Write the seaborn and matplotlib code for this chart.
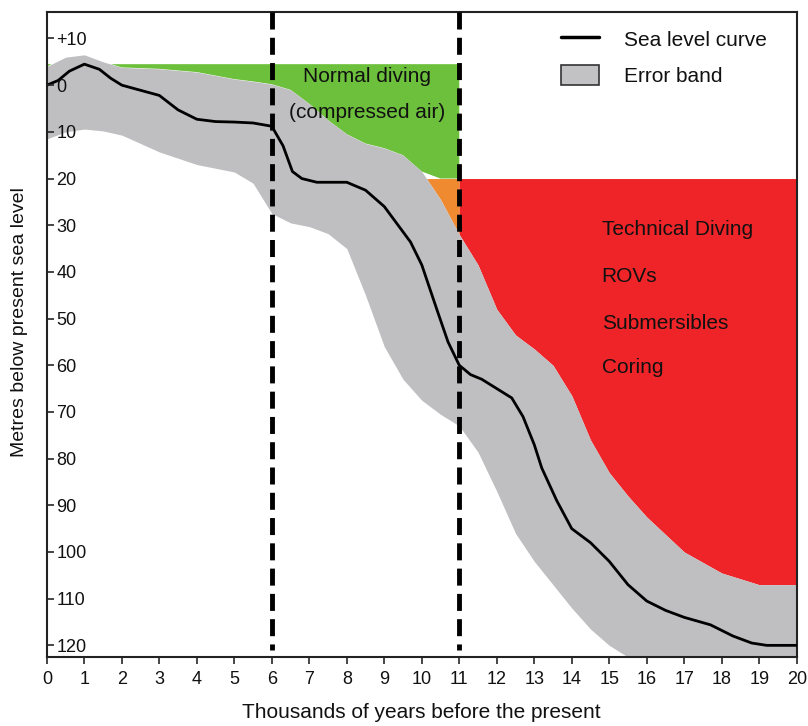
import numpy as np
import matplotlib
matplotlib.use("Agg")
import matplotlib.pyplot as plt
import seaborn as sns
from matplotlib.lines import Line2D
from matplotlib.patches import Patch

# sea level curve (thousands of years BP, metres below present)
curve_years = [0, 0.3, 0.6, 1.0, 1.4, 1.7, 2.0, 2.5, 3.0, 3.5, 4.0, 4.5, 5.0, 5.5,
               6.0, 6.3, 6.55, 6.8, 7.2, 8.0, 8.5, 9.0, 9.7, 10.0, 10.4, 10.7, 11.0,
               11.3, 11.6, 12.0, 12.4, 12.7, 13.0, 13.2, 13.6, 14.0, 14.5, 15.0, 15.5,
               16.0, 16.5, 17.0, 17.7, 18.3, 18.8, 19.2, 20.0]
curve_depth = [0, -1, -3, -4.5, -3.4, -1.5, 0, 1.1, 2.2, 5.3, 7.3, 7.8, 7.9, 8.1,
               8.8, 13, 18.5, 20, 20.8, 20.8, 22.5, 26, 33.6, 38.5, 48, 55, 60,
               62, 63, 65, 67, 71, 77, 82, 89, 95, 98, 102, 107,
               110.5, 112.5, 114, 115.6, 118, 119.5, 120, 120]

# error band edges
band_years = [0, 0.5, 1, 1.5, 2, 3, 4, 5, 5.5, 6, 6.5, 7, 7.5, 8, 8.5, 9, 9.5, 10,
              10.5, 11, 11.5, 12, 12.5, 13, 13.5, 14, 14.5, 15, 15.5, 16, 17, 18, 19, 20]
band_upper = [-4, -6, -6.5, -5, -3.8, -3.5, -2.8, -1.3, -0.8, -0.2, 1, 4, 7.5, 10.5,
              12.5, 13.5, 15, 18.5, 24.5, 32, 38.5, 48, 53.5, 56.5, 60, 66.5, 76, 83,
              88, 92.5, 100, 104.5, 107, 107]
band_lower = [11.5, 10, 9.4, 9.8, 10.7, 14.3, 17, 18.6, 21, 27.5, 29.5, 30.3, 31.8, 35,
              45, 56, 63, 67.5, 70.5, 73, 78.6, 87, 96, 102, 107, 112, 116.5, 120,
              122.5, 124, 124, 124, 124, 124]

ytick_vals = [-10, 0, 10, 20, 30, 40, 50, 60, 70, 80, 90, 100, 110, 120]
ytick_labels = ["+10", "0", "10", "20", "30", "40", "50", "60", "70", "80", "90",
                "100", "110", "120"]
xtick_vals = list(range(0, 21))

method_labels = ["Technical Diving", "ROVs", "Submersibles", "Coring"]
method_depths = [31, 41, 51, 60.5]
marker_years = [6, 11]
diving_limit = 20
diving_top = -4.5

sns.set_style("white")
plt.rcParams["font.family"] = ["Liberation Sans", "DejaVu Sans"]
plt.rcParams["text.color"] = "#111111"

fig = plt.figure(figsize=(8.08, 7.26), dpi=100)
ax = fig.add_axes([0.058, 0.095, 0.928, 0.888])

bx = np.array(band_years)
up = np.array(band_upper)
lo = np.array(band_lower)
left = bx <= 11
right = bx >= 11

# access zones
ax.fill_between(bx[left], diving_top, np.minimum(up[left], diving_limit),
                where=up[left] > diving_top, interpolate=True,
                color="#6cc03c", lw=0, zorder=1)
ax.fill_between(bx[left], diving_limit, up[left], where=up[left] > diving_limit,
                interpolate=True, color="#f08a30", lw=0, zorder=1)
ax.fill_between(bx[right], diving_limit, up[right], color="#ee2428", lw=0, zorder=1)

# error band
ax.fill_between(bx, up, lo, color="#bfbfc1", lw=0, zorder=2)

sns.lineplot(x=curve_years, y=curve_depth, ax=ax, color="black", lw=2, zorder=3,
             sort=False)

for yr in marker_years:
    ax.plot([yr, yr], [-15.6, 121], color="black", lw=3.5,
            linestyle=(0, (3.5, 1.7)), zorder=4)

ax.text(8.55, -1.9, "Normal diving", ha="center", va="center", fontsize=15)
ax.text(8.55, 5.8, "(compressed air)", ha="center", va="center", fontsize=15)
for lab, d in zip(method_labels, method_depths):
    ax.text(14.8, d, lab, ha="left", va="center", fontsize=15)

ax.set_xlim(0, 20)
ax.set_ylim(122.5, -15.6)
ax.set_xticks(xtick_vals)
ax.set_xticklabels([str(v) for v in xtick_vals], fontsize=13)
ax.set_yticks(ytick_vals)
ax.set_yticklabels(ytick_labels, fontsize=13)
for t in ax.get_yticklabels():
    t.set_horizontalalignment("left")
ax.tick_params(axis="y", direction="in", length=5, width=1.2, pad=-7, left=True,
               labelcolor="#111111")
ax.tick_params(axis="x", direction="out", length=5, width=1.2, pad=5, bottom=True,
               labelcolor="#111111")
ax.xaxis.set_zorder(5)
ax.yaxis.set_zorder(5)

for s in ax.spines.values():
    s.set_color("#222222")
    s.set_linewidth(1.5)

ax.set_xlabel("Thousands of years before the present", fontsize=15, labelpad=11,
              color="#111111")
ax.set_ylabel("Metres below present sea level", fontsize=14, color="#111111")
ax.yaxis.set_label_coords(-0.025, 0.52)

handles = [Line2D([0], [0], color="black", lw=2.5),
           Patch(facecolor="#c2c2c4", edgecolor="#333333", lw=1.2)]
ax.legend(handles, ["Sea level curve", "Error band"], loc="upper left",
          bbox_to_anchor=(0.686, 0.975), frameon=False, fontsize=15,
          handlelength=1.8, handleheight=1.1, handletextpad=1.2,
          labelspacing=0.75, borderpad=0, borderaxespad=0)

fig.savefig("out.png", dpi=100)
